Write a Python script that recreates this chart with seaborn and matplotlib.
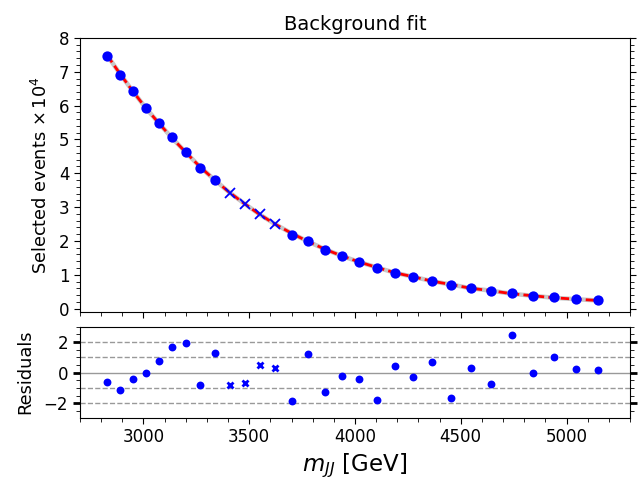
import numpy as np
import pandas as pd
import matplotlib
matplotlib.use("Agg")
import matplotlib.pyplot as plt
import seaborn as sns
from matplotlib.ticker import MultipleLocator

# ---- data ----
mjj = [2829, 2889, 2949, 3011, 3074, 3137, 3203, 3269, 3339, 3407,
       3478, 3550, 3624, 3702, 3776, 3856, 3937, 4019, 4102, 4189,
       4276, 4366, 4456, 4549, 4644, 4741, 4841, 4942, 5043, 5150]
events = [7.47, 6.91, 6.42, 5.93, 5.48, 5.06, 4.62, 4.15, 3.80, 3.41,
          3.09, 2.79, 2.50, 2.19, 2.01, 1.74, 1.56, 1.37, 1.19, 1.06,
          0.93, 0.82, 0.69, 0.61, 0.52, 0.46, 0.38, 0.33, 0.28, 0.245]
fit = [7.48, 6.94, 6.43, 5.93, 5.47, 5.03, 4.60, 4.18, 3.79, 3.43,
       3.10, 2.78, 2.49, 2.22, 1.99, 1.76, 1.56, 1.38, 1.22, 1.06,
       0.94, 0.81, 0.71, 0.60, 0.53, 0.44, 0.38, 0.32, 0.28, 0.24]
residuals = [-0.59, -1.17, -0.41, -0.02, 0.76, 1.70, 1.91, -0.83, 1.30, -0.83,
             -0.67, 0.50, 0.30, -1.87, 1.24, -1.28, -0.20, -0.41, -1.78, 0.46,
             -0.30, 0.70, -1.63, 0.33, -0.74, 2.43, -0.02, 1.04, 0.26, 0.15]
masked = [False] * 9 + [True] * 4 + [False] * 17

df = pd.DataFrame({"mjj": mjj, "events": events, "fit": fit,
                   "res": residuals, "masked": masked})
used = df[~df["masked"]]
excl = df[df["masked"]]

sns.set_style("ticks")
plt.rcParams["font.family"] = ["DejaVu Sans"]
plt.rcParams["text.color"] = "black"
plt.rcParams["axes.labelcolor"] = "black"
plt.rcParams["xtick.color"] = "black"
plt.rcParams["ytick.color"] = "black"
plt.rcParams["axes.edgecolor"] = "black"

fig = plt.figure(figsize=(6.38, 4.86), dpi=100)
ax1 = fig.add_axes([0.1254, 0.358, 0.862, 0.564])
ax2 = fig.add_axes([0.1254, 0.1405, 0.862, 0.1873], sharex=ax1)

blue = "#0000ff"

# ---- top panel ----
sns.lineplot(data=df, x="mjj", y="fit", ax=ax1, color="#c8c8c8", lw=3.2,
             zorder=2)
sns.lineplot(data=df, x="mjj", y="fit", ax=ax1, color="red", lw=2,
             zorder=3)
ax1.lines[-1].set_linestyle((0, (3, 1.5)))
sns.scatterplot(data=used, x="mjj", y="events", ax=ax1, color=blue,
                marker="o", s=55, edgecolor=blue, linewidth=0, zorder=4)
ax1.plot(excl["mjj"], excl["events"], "x", color=blue, ms=7, mew=1.3,
         zorder=4)

ax1.set_xlim(2700, 5300)
ax1.set_ylim(-0.1, 8)
ax1.set_title("Background fit", fontsize=14, color="black")
ax1.set_ylabel(r"Selected events $\times\,10^4$", fontsize=12.8, labelpad=6)
ax1.set_xlabel("")
ax1.yaxis.set_major_locator(MultipleLocator(1))
ax1.yaxis.set_minor_locator(MultipleLocator(0.2))
ax1.xaxis.set_major_locator(MultipleLocator(500))
ax1.xaxis.set_minor_locator(MultipleLocator(100))
ax1.tick_params(axis="x", labelbottom=False)
ax1.tick_params(axis="both", which="both", direction="out", right=True,
                labelsize=12)
ax1.tick_params(which="major", length=4)
ax1.tick_params(which="minor", length=3)

# ---- residual panel ----
for yv in (-2, -1, 1, 2):
    ax2.axhline(yv, color="#999999", ls="--", lw=1, zorder=1)
ax2.axhline(0, color="#999999", ls="-", lw=1, zorder=1)
sns.scatterplot(data=used, x="mjj", y="res", ax=ax2, color=blue,
                marker="o", s=32, edgecolor=blue, linewidth=0, zorder=4)
ax2.plot(excl["mjj"], excl["res"], "x", color=blue, ms=5, mew=2, zorder=4)

ax2.set_ylim(-2.95, 3.0)
ax2.set_ylabel("Residuals", fontsize=12.8, labelpad=7)
ax2.set_xlabel(r"$m_{JJ}$ [GeV]", fontsize=16.5, labelpad=4)
ax2.yaxis.set_major_locator(MultipleLocator(2))
ax2.yaxis.set_minor_locator(MultipleLocator(0.5))
ax2.tick_params(axis="both", which="both", direction="out", right=True,
                labelsize=12)
ax2.tick_params(axis="y", which="major", length=5, width=2)
ax2.tick_params(axis="x", which="major", length=4)
ax2.tick_params(which="minor", length=3)

for ax in (ax1, ax2):
    for sp in ax.spines.values():
        sp.set_visible(True)
        sp.set_color("black")

fig.savefig("out.png", dpi=100)
